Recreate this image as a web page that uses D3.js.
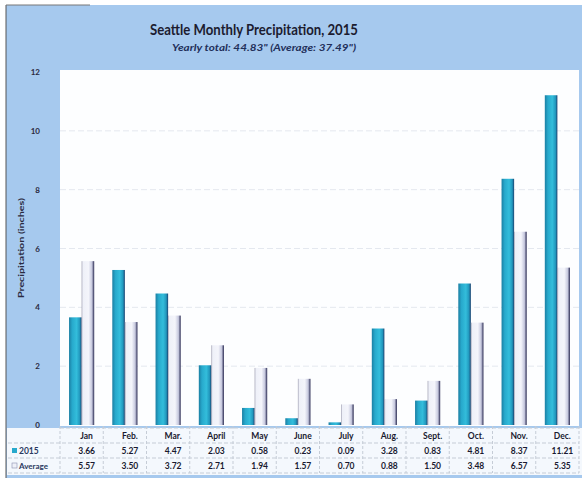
<!DOCTYPE html>
<html>
<head>
<meta charset="utf-8">
<script src="https://cdn.jsdelivr.net/npm/d3@7"></script>
<style>
  body { margin: 0; background: #fff; }
  text { font-family: Lato, "Open Sans", sans-serif; }
</style>
</head>
<body>
<div id="chart"></div>
<script>
// data
var months = ["Jan", "Feb.", "Mar.", "April", "May", "June", "July", "Aug.", "Sept.", "Oct.", "Nov.", "Dec."];
var precip2015 = [3.66, 5.27, 4.47, 2.03, 0.58, 0.23, 0.09, 3.28, 0.83, 4.81, 8.37, 11.21];
var precipAvg = [5.57, 3.50, 3.72, 2.71, 1.94, 1.57, 0.70, 0.88, 1.50, 3.48, 6.57, 5.35];
var yTicks = [0, 2, 4, 6, 8, 10, 12];
var seriesNames = ["2015", "Average"];

var W = 582, H = 478;
var plot = { left: 60, right: 579, top: 70, bottom: 426 };

var svg = d3.select("#chart").append("svg")
    .attr("width", W)
    .attr("height", H);

var defs = svg.append("defs");

// cyan bar gradient (left dark, middle bright, right edge navy)
var g1 = defs.append("linearGradient").attr("id", "gCyan").attr("x1", 0).attr("x2", 1).attr("y1", 0).attr("y2", 0);
g1.append("stop").attr("offset", "0%").attr("stop-color", "#1b7fa3");
g1.append("stop").attr("offset", "25%").attr("stop-color", "#27a9cc");
g1.append("stop").attr("offset", "60%").attr("stop-color", "#33bddb");
g1.append("stop").attr("offset", "85%").attr("stop-color", "#2197bd");
g1.append("stop").attr("offset", "100%").attr("stop-color", "#1b3f6e");

// pale bar gradient
var g2 = defs.append("linearGradient").attr("id", "gPale").attr("x1", 0).attr("x2", 1).attr("y1", 0).attr("y2", 0);
g2.append("stop").attr("offset", "0%").attr("stop-color", "#9d9db0");
g2.append("stop").attr("offset", "10%").attr("stop-color", "#eef0f8");
g2.append("stop").attr("offset", "55%").attr("stop-color", "#f4f5fb");
g2.append("stop").attr("offset", "82%").attr("stop-color", "#c6c8de");
g2.append("stop").attr("offset", "100%").attr("stop-color", "#26274f");

// outer frame
svg.append("rect")
    .attr("x", 6).attr("y", 5)
    .attr("width", W - 6).attr("height", H - 5)
    .attr("fill", "#a6c9ee");
svg.append("line")
    .attr("x1", 6).attr("x2", 6).attr("y1", 5).attr("y2", H)
    .attr("stroke", "#555").attr("stroke-width", 1);
svg.append("line")
    .attr("x1", 6).attr("x2", 90).attr("y1", 5).attr("y2", 5)
    .attr("stroke", "#777").attr("stroke-width", 1);

// plot area + table background
svg.append("rect")
    .attr("x", plot.left).attr("y", plot.top)
    .attr("width", plot.right - plot.left).attr("height", plot.bottom - plot.top)
    .attr("fill", "#fdfeff");
svg.append("rect")
    .attr("x", 7).attr("y", 428)
    .attr("width", W - 7).attr("height", 47)
    .attr("fill", "#f4f8fd");

// title
svg.append("text")
    .attr("x", 254).attr("y", 35)
    .attr("text-anchor", "middle")
    .attr("font-size", 15).attr("font-weight", "bold")
    .attr("fill", "#1c1c30")
    .attr("textLength", 208).attr("lengthAdjust", "spacingAndGlyphs")
    .text("Seattle Monthly Precipitation, 2015");
svg.append("text")
    .attr("x", 264).attr("y", 51)
    .attr("text-anchor", "middle")
    .attr("font-size", 10).attr("font-weight", "bold").attr("font-style", "italic")
    .attr("fill", "#1f2f5a")
    .attr("textLength", 184).attr("lengthAdjust", "spacingAndGlyphs")
    .text("Yearly  total: 44.83\" (Average: 37.49\")");

// scales
var y = d3.scaleLinear().domain([0, 12]).range([425, 72]);
var x = d3.scaleBand().domain(months).range([plot.left, plot.right]);
var x1 = d3.scaleBand().domain(seriesNames).range([0, x.bandwidth()]).paddingOuter(0.72);

// gridlines
svg.append("g")
    .selectAll("line")
    .data(yTicks.filter(function (d) { return d > 0 && d < 12; }))
    .join("line")
    .attr("x1", plot.left).attr("x2", plot.right)
    .attr("y1", function (d) { return y(d); })
    .attr("y2", function (d) { return y(d); })
    .attr("stroke", "#e4e8ef")
    .attr("stroke-width", 1)
    .attr("stroke-dasharray", "6,3");

// y axis labels
var yAxis = svg.append("g")
    .attr("transform", "translate(40,0)")
    .call(d3.axisLeft(y).tickValues(yTicks).tickSize(0).tickPadding(0));
yAxis.select(".domain").remove();
yAxis.selectAll("text")
    .attr("font-family", "Lato, sans-serif")
    .attr("font-size", 8)
    .attr("font-weight", "bold")
    .attr("fill", "#2a2a40");

svg.append("text")
    .attr("transform", "translate(24,248) rotate(-90)")
    .attr("text-anchor", "middle")
    .attr("font-size", 8).attr("font-weight", "bold")
    .attr("fill", "#2a2a40")
    .attr("textLength", 100).attr("lengthAdjust", "spacingAndGlyphs")
    .text("Precipitation (inches)");

// bars
var rows = months.map(function (m, i) {
    return { month: m, vals: [
        { key: "2015", v: precip2015[i] },
        { key: "Average", v: precipAvg[i] }
    ] };
});

var groups = svg.append("g")
    .selectAll("g")
    .data(rows)
    .join("g")
    .attr("transform", function (d) { return "translate(" + x(d.month) + ",0)"; });

groups.selectAll("rect")
    .data(function (d) { return d.vals; })
    .join("rect")
    .attr("x", function (d) { return x1(d.key); })
    .attr("width", x1.bandwidth())
    .attr("y", function (d) { return y(d.v); })
    .attr("height", function (d) { return y(0) - y(d.v); })
    .attr("fill", function (d) { return d.key == "2015" ? "url(#gCyan)" : "url(#gPale)"; });

// data table
var rowY = [428, 443, 458, 473];
svg.append("g")
    .selectAll("line")
    .data(rowY)
    .join("line")
    .attr("x1", function (d, i) { return i == 0 ? plot.left : 8; })
    .attr("x2", plot.right)
    .attr("y1", function (d) { return d; })
    .attr("y2", function (d) { return d; })
    .attr("stroke", "#c5ccd6")
    .attr("stroke-dasharray", "4,2");

svg.append("g")
    .selectAll("line")
    .data(months.concat(["end"]))
    .join("line")
    .attr("x1", function (d) { return d == "end" ? plot.right : x(d); })
    .attr("x2", function (d) { return d == "end" ? plot.right : x(d); })
    .attr("y1", 426).attr("y2", 473)
    .attr("stroke", "#c5ccd6")
    .attr("stroke-dasharray", "3,2");

var cellText = function (sel, yy, vals) {
    sel.append("g")
        .selectAll("text")
        .data(vals)
        .join("text")
        .attr("x", function (d, i) { return x(months[i]) + x.bandwidth() / 2 + 5; })
        .attr("y", yy)
        .attr("text-anchor", "middle")
        .attr("font-size", 8.5)
        .attr("font-weight", "bold")
        .attr("fill", "#1a1a30")
        .text(function (d) { return d; });
};
cellText(svg, 439, months);
cellText(svg, 454, precip2015.map(function (d) { return d.toFixed(2); }));
cellText(svg, 469, precipAvg.map(function (d) { return d.toFixed(2); }));

// legend keys in table
svg.append("rect").attr("x", 12).attr("y", 448).attr("width", 5).attr("height", 5).attr("fill", "#27a9cc");
svg.append("rect").attr("x", 12).attr("y", 463).attr("width", 5).attr("height", 5).attr("fill", "#eef0f8").attr("stroke", "#8a8fb0").attr("stroke-width", 0.6);
svg.append("text").attr("x", 19).attr("y", 454).attr("font-size", 8.5).attr("font-weight", "bold").attr("fill", "#2a3a60").text(seriesNames[0]);
svg.append("text").attr("x", 19).attr("y", 469).attr("font-size", 8).attr("font-weight", "bold").attr("fill", "#2a3a60").text(seriesNames[1]);
</script>
</body>
</html>
